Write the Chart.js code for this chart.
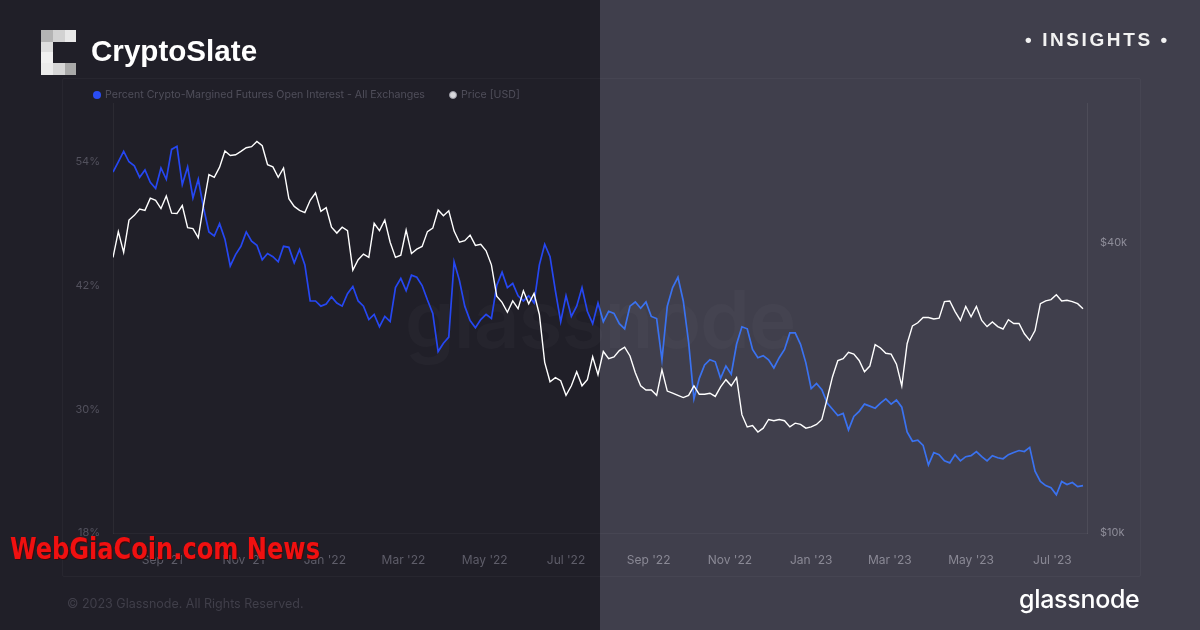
<!DOCTYPE html>
<html><head><meta charset="utf-8">
<script src="https://cdn.jsdelivr.net/npm/chart.js@4.4.0/dist/chart.umd.min.js"></script>
<style>
html,body{margin:0;padding:0;}
body{width:1200px;height:630px;background:#201f28;position:relative;overflow:hidden;font-family:Inter,"Noto Sans",sans-serif;}
#overlay{position:absolute;left:600px;top:0;width:600px;height:630px;background:#403f4c;z-index:0;}
#panel{position:absolute;left:62px;top:78px;width:1077px;height:497px;border:1px solid rgba(255,255,255,0.035);border-radius:2px;z-index:1;}
#wm{position:absolute;left:0;width:1200px;top:270px;text-align:center;font-family:Inter,sans-serif;font-weight:600;font-size:80px;color:rgba(255,255,255,0.022);letter-spacing:-1px;z-index:1;}
#c{position:absolute;left:0;top:0;z-index:2;}
.abs{position:absolute;z-index:3;white-space:nowrap;}
.blk{position:absolute;z-index:3;}
#brand{left:91px;top:34px;font-family:"Liberation Sans",Arial,sans-serif;font-weight:bold;font-size:29.6px;color:#fff;}
#ins{left:1025px;top:29px;font-family:"Liberation Sans",Arial,sans-serif;font-weight:bold;font-size:19px;letter-spacing:2.6px;color:#f2f2f2;}
.leg{top:88px;font-size:10.6px;color:#4f4e5a;}
.dot{position:absolute;z-index:3;width:8px;height:8px;border-radius:50%;}
#copy{left:67px;top:596px;font-size:12.5px;color:#403f4a;}
#gn{left:1019px;top:584px;font-family:Inter,sans-serif;font-weight:500;font-size:25px;color:#fff;letter-spacing:-0.3px;}
#red{left:10px;top:531px;font-family:"DejaVu Sans Condensed","DejaVu Sans",sans-serif;font-weight:bold;font-size:30px;color:#f01010;transform-origin:0 0;text-shadow:1px 1px 0 #3a0a0a;z-index:5;}
</style></head>
<body>
<div id="overlay"></div>
<div id="panel"></div>
<div id="wm">glassnode</div>
<canvas id="c" width="1200" height="630"></canvas>

<div class="blk" style="left:41px;top:30px;width:12px;height:12px;background:#b4b4b4;"></div>
<div class="blk" style="left:53px;top:30px;width:12px;height:12px;background:#d2d2d2;"></div>
<div class="blk" style="left:65px;top:30px;width:11px;height:12px;background:#e8e8e8;"></div>
<div class="blk" style="left:41px;top:42px;width:12px;height:10px;background:#dedede;"></div>
<div class="blk" style="left:41px;top:52px;width:12px;height:11px;background:#f0f0f0;"></div>
<div class="blk" style="left:41px;top:63px;width:12px;height:12px;background:#ebebeb;"></div>
<div class="blk" style="left:53px;top:63px;width:12px;height:12px;background:#d6d6d6;"></div>
<div class="blk" style="left:65px;top:63px;width:11px;height:12px;background:#a9a9a9;"></div>
<div id="brand" class="abs">CryptoSlate</div>
<div id="ins" class="abs">• INSIGHTS •</div>

<div class="dot" style="left:93px;top:91px;background:#2a4df4;"></div>
<div class="abs leg" style="left:105px;">Percent Crypto-Margined Futures Open Interest - All Exchanges</div>
<div class="dot" style="left:449px;top:91px;background:#d8d8dc;box-sizing:border-box;border:1px solid #9a9aa4;"></div>
<div class="abs leg" style="left:461px;">Price [USD]</div>

<div id="copy" class="abs">© 2023 Glassnode. All Rights Reserved.</div>
<div id="gn" class="abs">glassnode</div>
<div id="red" class="abs">WebGiaCoin.com News</div>

<script>
const dates = ['2021-07-26','2021-07-30','2021-08-03','2021-08-07','2021-08-11','2021-08-15','2021-08-19','2021-08-23','2021-08-27','2021-08-31','2021-09-04','2021-09-08','2021-09-12','2021-09-16','2021-09-20','2021-09-24','2021-09-28','2021-10-02','2021-10-06','2021-10-10','2021-10-14','2021-10-18','2021-10-22','2021-10-26','2021-10-30','2021-11-03','2021-11-07','2021-11-11','2021-11-15','2021-11-19','2021-11-23','2021-11-27','2021-12-01','2021-12-05','2021-12-09','2021-12-13','2021-12-17','2021-12-21','2021-12-25','2021-12-29','2022-01-02','2022-01-06','2022-01-10','2022-01-14','2022-01-18','2022-01-22','2022-01-26','2022-01-30','2022-02-03','2022-02-07','2022-02-11','2022-02-15','2022-02-19','2022-02-23','2022-02-27','2022-03-03','2022-03-07','2022-03-11','2022-03-15','2022-03-19','2022-03-23','2022-03-27','2022-03-31','2022-04-04','2022-04-08','2022-04-12','2022-04-16','2022-04-20','2022-04-24','2022-04-28','2022-05-02','2022-05-06','2022-05-10','2022-05-14','2022-05-18','2022-05-22','2022-05-26','2022-05-30','2022-06-03','2022-06-07','2022-06-11','2022-06-15','2022-06-19','2022-06-23','2022-06-27','2022-07-01','2022-07-05','2022-07-09','2022-07-13','2022-07-17','2022-07-21','2022-07-25','2022-07-29','2022-08-02','2022-08-06','2022-08-10','2022-08-14','2022-08-18','2022-08-22','2022-08-26','2022-08-30','2022-09-03','2022-09-07','2022-09-11','2022-09-15','2022-09-19','2022-09-23','2022-09-27','2022-10-01','2022-10-05','2022-10-09','2022-10-13','2022-10-17','2022-10-21','2022-10-25','2022-10-29','2022-11-02','2022-11-06','2022-11-10','2022-11-14','2022-11-18','2022-11-22','2022-11-26','2022-11-30','2022-12-04','2022-12-08','2022-12-12','2022-12-16','2022-12-20','2022-12-24','2022-12-28','2023-01-01','2023-01-05','2023-01-09','2023-01-13','2023-01-17','2023-01-21','2023-01-25','2023-01-29','2023-02-02','2023-02-06','2023-02-10','2023-02-14','2023-02-18','2023-02-22','2023-02-26','2023-03-02','2023-03-06','2023-03-10','2023-03-14','2023-03-18','2023-03-22','2023-03-26','2023-03-30','2023-04-03','2023-04-07','2023-04-11','2023-04-15','2023-04-19','2023-04-23','2023-04-27','2023-05-01','2023-05-05','2023-05-09','2023-05-13','2023-05-17','2023-05-21','2023-05-25','2023-05-29','2023-06-02','2023-06-06','2023-06-10','2023-06-14','2023-06-18','2023-06-22','2023-06-26','2023-06-30','2023-07-04','2023-07-08','2023-07-12','2023-07-16','2023-07-20','2023-07-24'];

const oiPercent = [53.0,54.0,55.0,54.0,53.6,52.5,53.2,52.0,51.4,53.4,52.3,55.2,55.5,51.8,53.5,50.5,52.3,49.5,47.2,46.8,48.0,46.5,43.9,45.0,45.8,47.2,46.3,45.9,44.5,45.1,44.8,44.3,45.8,45.7,44.2,45.5,44.0,40.5,40.5,40.0,40.2,40.9,40.3,40.0,41.2,41.9,40.5,40.0,38.7,39.2,38.0,39.0,38.5,41.8,42.7,41.5,43.0,42.8,42.0,40.6,39.3,35.6,36.4,37.0,44.3,42.5,40.0,38.6,37.9,38.7,39.2,38.8,42.0,43.3,41.8,42.2,41.0,40.5,41.0,40.3,44.0,46.0,44.8,41.5,38.5,41.0,39.0,40.0,41.8,39.5,38.3,40.3,38.5,39.5,39.3,38.3,37.8,40.0,40.4,39.8,40.4,39.0,38.8,34.8,40.0,41.8,42.8,40.5,36.5,31.0,33.0,34.3,34.8,34.6,33.0,34.2,33.4,36.3,38.0,37.8,35.8,35.0,35.2,34.8,34.0,35.0,35.8,37.4,37.4,36.3,34.5,32.0,32.5,31.9,30.6,30.0,29.4,29.6,28.0,29.3,29.8,30.5,30.3,30.1,30.6,31.0,30.5,30.9,30.2,27.8,26.9,27.0,26.5,24.6,25.8,25.6,25.0,24.8,25.6,25.0,25.4,25.5,25.9,25.4,25.0,25.5,25.3,25.2,25.6,25.8,26.0,25.9,26.3,24.0,23.0,22.6,22.4,21.7,23.0,22.7,22.9,22.5,22.6];

const priceUSD = [37300,42200,38200,44600,45600,47000,46700,49500,49000,47100,50000,46100,46000,47800,43000,42800,41000,48000,55400,54700,57400,62000,60700,60900,61900,63000,63300,64900,63600,58100,57500,54700,57200,49400,47600,46700,46200,49000,50800,46500,47300,43100,41900,43100,42400,35100,36900,37900,37300,43900,42400,44600,40100,37300,37700,42500,38000,38800,39300,42200,42900,46800,45500,46600,42300,40100,40400,41500,39500,39700,38500,36000,31000,30100,28700,30300,29200,31800,29900,31400,28400,22600,20600,21000,20700,19300,20200,21600,20200,20800,23200,21300,23800,23000,23200,23900,24300,23300,21500,20200,19800,19800,19300,21800,19700,19500,19300,19100,19300,20200,19400,19400,19500,19200,20100,20800,20200,21000,17600,16600,16700,16200,16500,17200,17100,17200,17100,16600,16900,16800,16500,16600,16800,17200,19000,21100,22800,23000,23700,23500,22800,21600,22200,24600,24200,23600,23500,22400,20200,24700,26900,27300,28000,28000,27800,27900,30200,30300,28800,27600,29500,28100,29500,27600,26800,27400,26800,26500,27700,27200,27200,25900,25100,26300,29900,30300,30500,31200,30300,30400,30200,29900,29200];

const xTickDates = ['2021-09-01','2021-11-01','2022-01-01','2022-03-01','2022-05-01','2022-07-01','2022-09-01','2022-11-01','2023-01-01','2023-03-01','2023-05-01','2023-07-01'];
const xTickLabels = ["Sep '21","Nov '21","Jan '22","Mar '22","May '22","Jul '22","Sep '22","Nov '22","Jan '23","Mar '23","May '23","Jul '23"];
const leftTicks = [18,30,42,54];
const rightTicks = [10000,40000];

const t0 = Date.parse(dates[0] + 'T00:00:00Z');
const dayOf = s => Math.round((Date.parse(s + 'T00:00:00Z') - t0) / 86400000);
const xTickDays = xTickDates.map(dayOf);

const oiData = dates.map((d,i)=>({x:dayOf(d), y:oiPercent[i]}));
const priceData = dates.map((d,i)=>({x:dayOf(d), y:priceUSD[i]}));

const SPLIT = 600;
function splitGradient(c, leftCol, rightCol){
  const g = c.chart.ctx.createLinearGradient(0,0,1200,0);
  const f = SPLIT/1200;
  g.addColorStop(0,leftCol); g.addColorStop(f,leftCol);
  g.addColorStop(f,rightCol); g.addColorStop(1,rightCol);
  return g;
}

const tickFont = {family:'Inter', size:11};
new Chart(document.getElementById('c'), {
  type:'line',
  data:{datasets:[
    {label:'Price [USD]', data:priceData, yAxisID:'yR', borderColor:'#ffffff', borderWidth:1.4, pointRadius:0, tension:0, order:1},
    {label:'Percent Crypto-Margined Futures Open Interest - All Exchanges', data:oiData, yAxisID:'yL',
      borderColor:c=>splitGradient(c,'#2547f2','#3a72f0'), borderWidth:1.7, pointRadius:0, tension:0, order:2}
  ]},
  options:{
    responsive:false, animation:false, events:[],
    layout:{padding:{top:103,left:0,right:0,bottom:0}},
    plugins:{legend:{display:false}, tooltip:{enabled:false}},
    scales:{
      x:{type:'linear', min:0, max:731,
        grid:{display:false, drawTicks:false},
        border:{display:true, color:'rgba(255,255,255,0.04)'},
        afterBuildTicks:s=>{s.ticks = xTickDays.map(v=>({value:v}));},
        afterFit:s=>{s.height = 97;},
        ticks:{autoSkip:false, maxRotation:0, padding:20, font:{family:'Inter', size:12},
          color:c=> (c.index>=6 ? '#8a8995' : '#5e5d69'),
          callback:(v)=>{const i = xTickDays.indexOf(v); return i>=0 ? xTickLabels[i] : '';}}
      },
      yL:{type:'linear', position:'left', min:18, max:59.7,
        grid:{display:false, drawTicks:false},
        border:{display:true, color:'rgba(255,255,255,0.05)'},
        afterBuildTicks:s=>{s.ticks = leftTicks.map(v=>({value:v}));},
        afterFit:s=>{s.width = 113;},
        ticks:{padding:13, color:'#52515d', font:tickFont, callback:v=>v+'%'}
      },
      yR:{type:'logarithmic', position:'right', min:10000, max:78000,
        grid:{display:false, drawTicks:false},
        border:{display:true, color:'rgba(255,255,255,0.07)'},
        afterBuildTicks:s=>{s.ticks = rightTicks.map(v=>({value:v}));},
        afterFit:s=>{s.width = 113;},
        ticks:{padding:13, color:'#8d8c98', font:tickFont, callback:v=>'$'+(v/1000)+'k'}
      }
    }
  }
});

const red = document.getElementById('red');
const w = red.getBoundingClientRect().width;
red.style.transform = 'scaleX(' + (310 / w) + ')';
</script>
</body></html>
